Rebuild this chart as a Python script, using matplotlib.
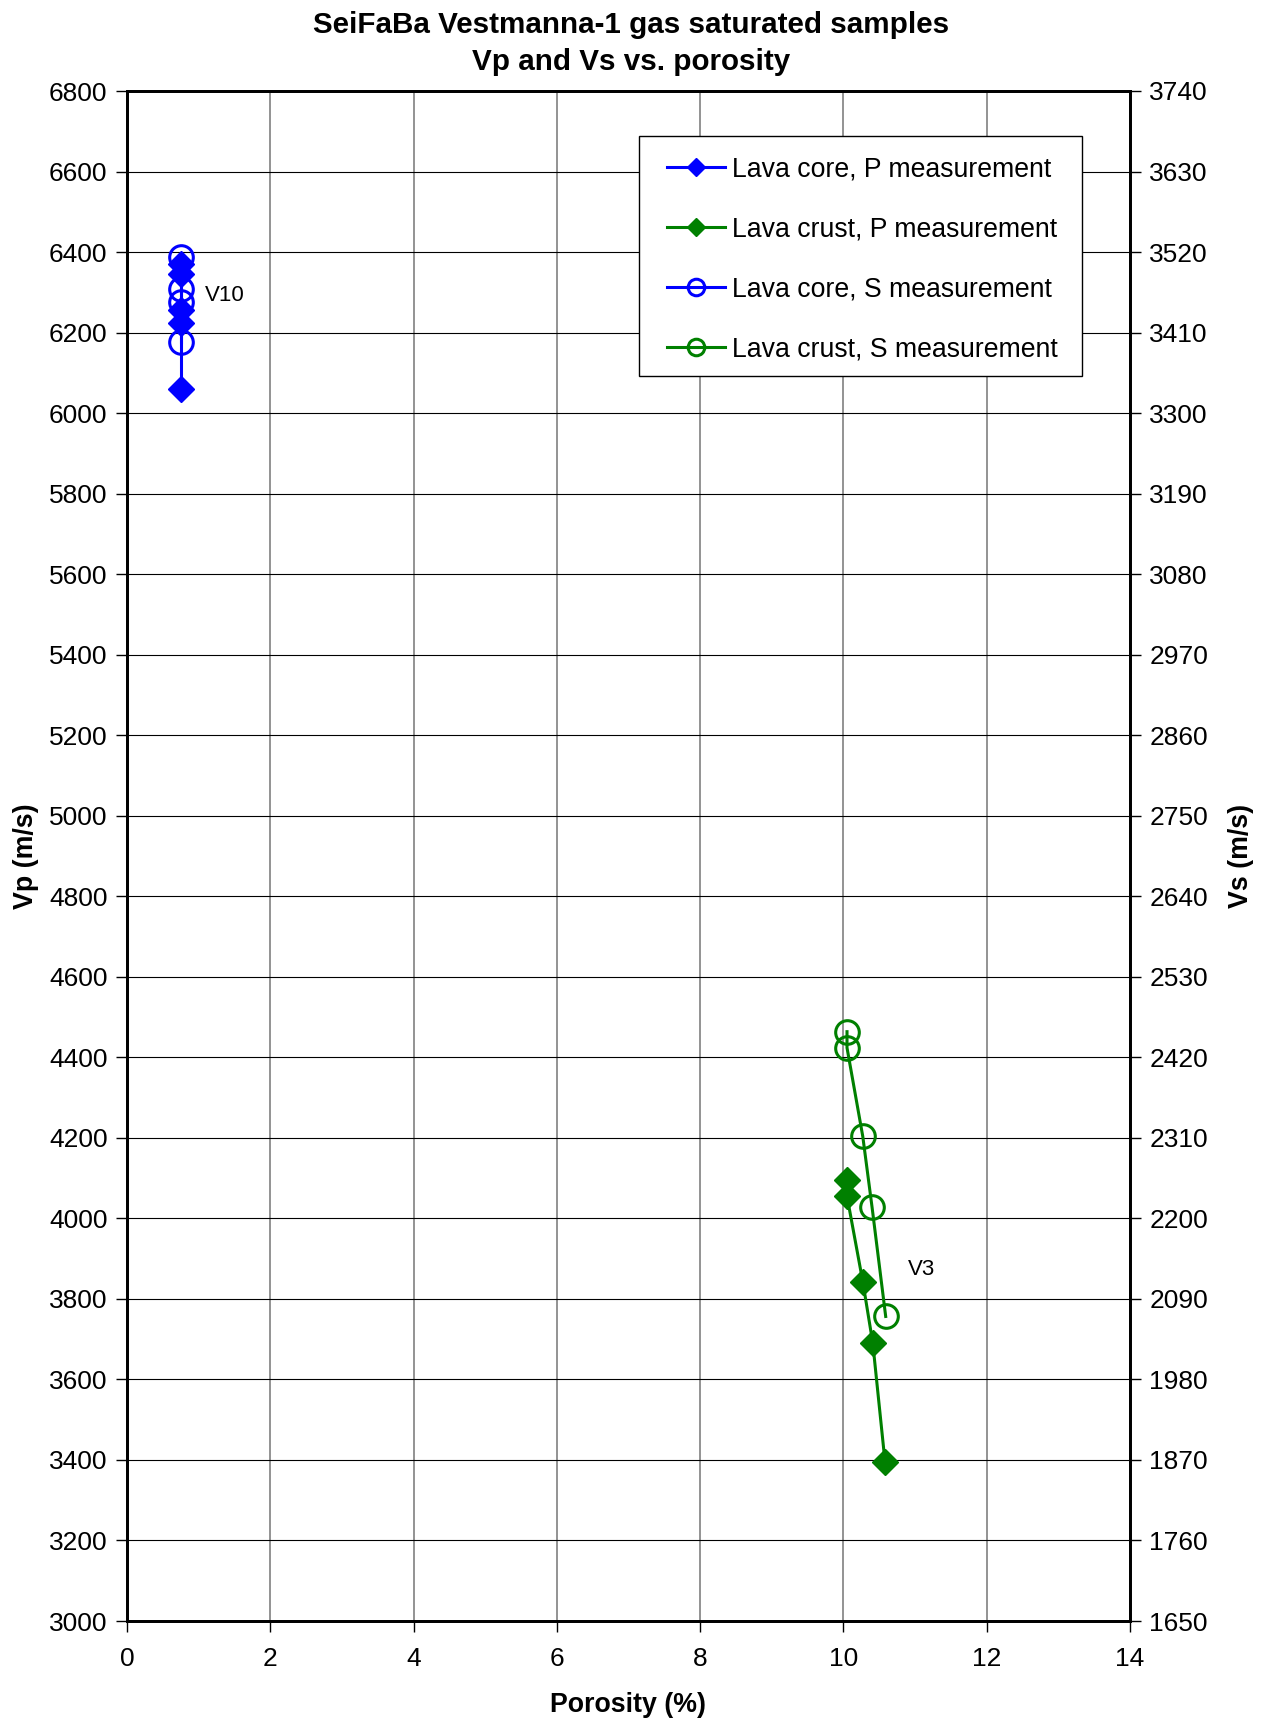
import matplotlib
matplotlib.use("Agg")
import matplotlib.pyplot as plt
from matplotlib.patches import Rectangle
import numpy as np

plt.rcParams['font.family'] = ['Liberation Sans', 'DejaVu Sans']

# Data
core_p_por = [0.76, 0.76, 0.76, 0.76, 0.76]
core_p_vp = [6060, 6225, 6255, 6345, 6370]
crust_p_por = [10.05, 10.05, 10.27, 10.41, 10.58]
crust_p_vp = [4095, 4055, 3843, 3690, 3396]
core_s_por = [0.76, 0.76, 0.76, 0.76]
core_s_vs = [3397, 3452, 3470, 3513]
crust_s_por = [10.05, 10.05, 10.27, 10.40, 10.59]
crust_s_vs = [2455, 2433, 2312, 2215, 2066]

x_ticks = list(range(0, 15, 2))
vp_ticks = list(range(3000, 6801, 200))
vs_ticks = list(range(1650, 3741, 110))

fig = plt.figure(figsize=(12.62, 17.19), dpi=100)
ax = fig.add_axes([127/1262, 1 - 1621/1719, (1130-127)/1262, (1621-91)/1719])
ax2 = ax.twinx()

blue = '#0000FF'
green = '#008000'

h1, = ax.plot(core_p_por, core_p_vp, color=blue, lw=2.2, marker='D', ms=13,
              mfc=blue, mec=blue, label='Lava core, P measurement', zorder=3)
h2, = ax.plot(crust_p_por, crust_p_vp, color=green, lw=2.2, marker='D', ms=13,
              mfc=green, mec=green, label='Lava crust, P measurement', zorder=3)
h3, = ax2.plot(core_s_por, core_s_vs, color=blue, lw=2.2, marker='o', ms=17,
               mfc='none', mec=blue, mew=2.2, label='Lava core, S measurement', zorder=3)
h4, = ax2.plot(crust_s_por, crust_s_vs, color=green, lw=2.2, marker='o', ms=17,
               mfc='none', mec=green, mew=2.2, label='Lava crust, S measurement', zorder=3)

ax.set_xlim(0, 14)
ax.set_ylim(3000, 6800)
ax2.set_ylim(1650, 3740)
ax.set_xticks(x_ticks)
ax.set_yticks(vp_ticks)
ax2.set_yticks(vs_ticks)

for a in (ax, ax2):
    for s in a.spines.values():
        s.set_linewidth(2)
        s.set_color('black')
    a.tick_params(labelsize=19, length=8, width=1, direction='out', pad=6)
ax.tick_params(axis='x', pad=11)

ax.yaxis.grid(True, color='black', lw=0.8)
ax.xaxis.grid(True, color='#808080', lw=1.2)
ax.set_axisbelow(True)

ax.set_xlabel('Porosity (%)', fontsize=19.3, fontweight='bold', labelpad=15)
ax.set_ylabel('Vp (m/s)', fontsize=19.3, fontweight='bold', labelpad=7)
ax2.set_ylabel('Vs (m/s)', fontsize=19.3, fontweight='bold', labelpad=14)

ax.text(1.09, 6291, 'V10', fontsize=16, va='center', ha='left')
ax.text(10.9, 3872, 'V3', fontsize=16, va='center', ha='left')

fig.text(0.5, 1 - 25/1719, 'SeiFaBa Vestmanna-1 gas saturated samples', ha='center', va='center',
         fontsize=21.3, fontweight='bold')
fig.text(0.5, 1 - 62/1719, 'Vp and Vs vs. porosity', ha='center', va='center',
         fontsize=21.3, fontweight='bold')

# legend box (frame drawn separately for exact padding)
box = Rectangle((0.5105, 0.8137), 0.4417, 0.1569, transform=ax2.transAxes,
                facecolor='white', edgecolor='black', lw=1, zorder=4)
ax2.add_patch(box)
leg = ax2.legend(handles=[h1, h2, h3, h4], loc='upper left', bbox_to_anchor=(0.538, 0.9573),
                 borderaxespad=0, fontsize=19.2, markerscale=0.7, handlelength=2.2,
                 handletextpad=0.25, labelspacing=1.28, borderpad=0, frameon=False)
leg.set_zorder(5)

fig.savefig('out.png', dpi=100)
